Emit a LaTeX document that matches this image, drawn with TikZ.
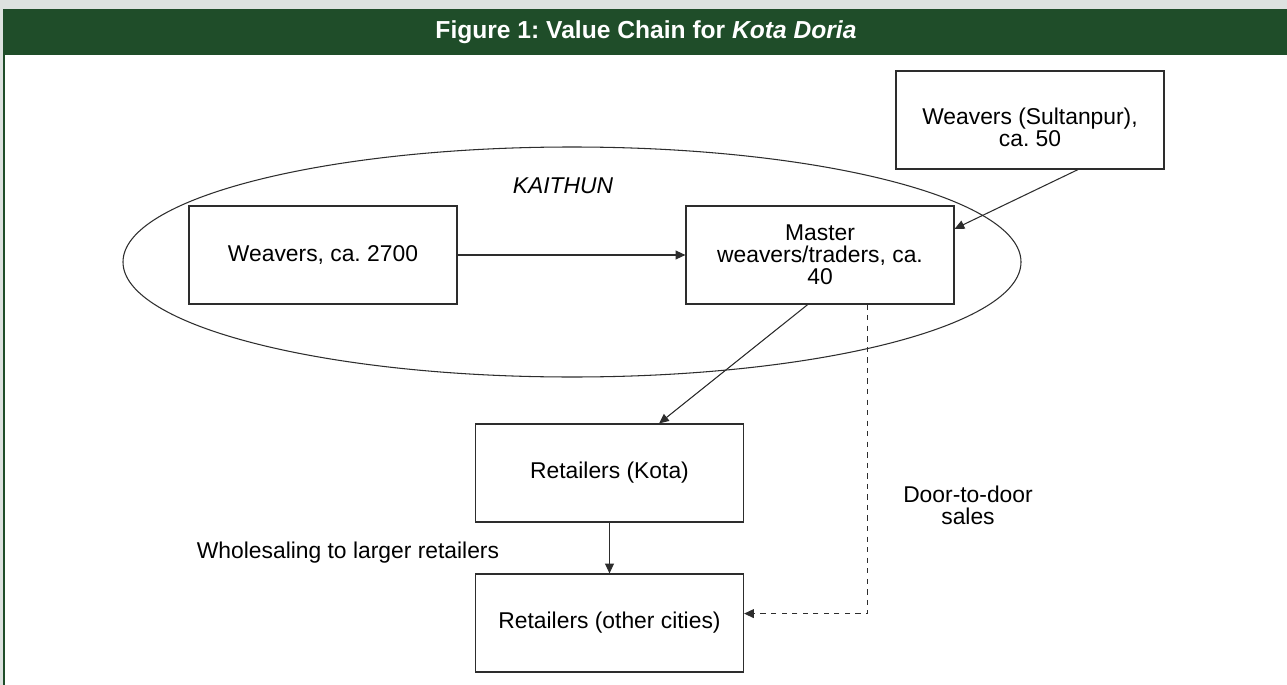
\documentclass[tikz,border=0pt]{standalone}
\usepackage{fontspec}
\setmainfont{Liberation Sans}
\usetikzlibrary{arrows.meta,positioning,shapes.geometric}
\definecolor{headgreen}{RGB}{31,77,41}
\definecolor{pagegray}{RGB}{221,226,223}
\definecolor{linegray}{RGB}{45,45,45}
\frenchspacing

\begin{document}
\begin{tikzpicture}[x=0.2mm,y=-0.2mm,node distance=3cm,on grid,
    box/.style={draw=linegray,line width=0.7pt,minimum width=5.36cm,minimum height=1.96cm,
      align=center,inner sep=0pt,font=\fontsize{13}{12.5}\selectfont},
    lbl/.style={align=center,font=\fontsize{13}{12.5}\selectfont},
    flow/.style={-{Triangle[length=5.5pt,width=5pt]},draw=linegray,line width=0.6pt}]

    % page and header bar
    \fill[pagegray] (0,0) rectangle (1287,685);
    \fill[white] (3,9) rectangle (1287,685);
    \fill[headgreen] (3,9) rectangle (5,685);
    \fill[headgreen] (3,9) rectangle (1287,55);
    \node[text=white,font=\fontsize{14}{16}\selectfont\bfseries] (title) at (646,32)
        {Figure 1: Value Chain for \textit{Kota Doria}};

    % Kaithun cluster
    \node[ellipse,draw=linegray,line width=0.6pt,minimum width=17.96cm,minimum height=4.6cm,
        inner sep=0pt] (kaithun) at (572,262) {};
    \node[lbl,font=\fontsize{13}{12.5}\selectfont\itshape] (kaithunlbl) at (563,186) {KAITHUN};

    \node[box]  (weavers)                        at (323,255)  {Weavers, ca. 2700};
    \node[box]  (master)  [right=9.94cm of weavers]            {Master\\weavers/traders, ca.\\40};
    \node[box]  (sultan)                         at (1030,120) {\rule{0pt}{18pt}Weavers (Sultanpur),\\ca. 50};
    \node[box]  (kota)                           at (609.5,473) {Retailers (Kota)};
    \node[box]  (other)   [below=3cm of kota]                  {Retailers (other cities)};

    \node[lbl]  (door)  at (968,505) {Door-to-door\\sales};
    \node[lbl]  (whole) at (348,553) {Wholesaling to larger retailers};

    \draw[flow] (weavers) -- (master);
    \draw[flow] (sultan.314) -- (master.11.7);
    \draw[flow] (master.256) -- (kota.45.3);
    \draw[flow] (kota) -- (other);
    \draw[flow,dashed] (master.314.4) |- (other.4.5);
\end{tikzpicture}
\end{document}
